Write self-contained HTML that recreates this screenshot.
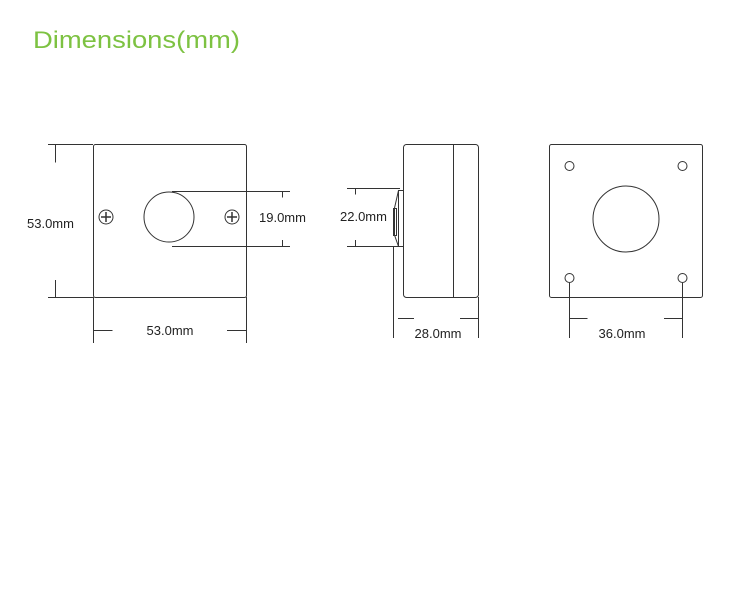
<!DOCTYPE html>
<html><head><meta charset="utf-8"><style>
html,body{margin:0;padding:0;background:#fff;}
svg{display:block;}
</style></head><body>
<svg width="750" height="602" viewBox="0 0 750 602" xmlns="http://www.w3.org/2000/svg">
<text x="33" y="48" font-family="Liberation Sans, sans-serif" font-size="24" fill="#7dc242" textLength="207" lengthAdjust="spacingAndGlyphs">Dimensions(mm)</text>
<g stroke="#333" stroke-width="1" fill="none">
<!-- front view -->
<rect x="93.5" y="144.5" width="153" height="153" rx="2"/>
<circle cx="169" cy="217" r="25"/>
<circle cx="106" cy="217" r="7"/>
<circle cx="232" cy="217" r="7"/>
<path d="M106 212v10M101 217h10M232 212v10M227 217h10" stroke-width="1.5"/>
<path d="M48 144.5h45M48 297.5h45M55.5 144.5v18M55.5 280v17.5"/>
<path d="M172 191.5h118M172 246.5h118M282.5 191.5v6M282.5 240v6.5"/>
<path d="M93.5 297v46M246.5 297v46M93.5 330.5h19M227 330.5h19.5"/>
<!-- side view -->
<rect x="403.5" y="144.5" width="75" height="153" rx="3"/>
<path d="M453.5 144.5v153"/>
<path d="M398.5 190.5h5v56h-5zM398.5 190.5L394.5 208v27L398.5 246.5M393.5 208.5h3v27h-3z"/>
<path d="M347 188.5h53M347 246.5h53M355.5 188.5v6M355.5 240v6.5"/>
<path d="M393.5 247v91M478.5 297v41M398 318.5h16M460 318.5h18.5"/>
<!-- back view -->
<rect x="549.5" y="144.5" width="153" height="153" rx="2"/>
<circle cx="626" cy="219" r="33"/>
<circle cx="569.5" cy="166" r="4.5"/>
<circle cx="682.5" cy="166" r="4.5"/>
<circle cx="569.5" cy="278" r="4.5"/>
<circle cx="682.5" cy="278" r="4.5"/>
<path d="M569.5 283v55M682.5 283v55M569.5 318.5h18M664 318.5h18.5"/>
</g>
<g font-family="Liberation Sans, sans-serif" font-size="13" fill="#222">
<text x="27" y="228">53.0mm</text>
<text x="259" y="222">19.0mm</text>
<text x="170" y="335" text-anchor="middle">53.0mm</text>
<text x="340" y="221">22.0mm</text>
<text x="438" y="338" text-anchor="middle">28.0mm</text>
<text x="622" y="338" text-anchor="middle">36.0mm</text>
</g>
</svg>
</body></html>
